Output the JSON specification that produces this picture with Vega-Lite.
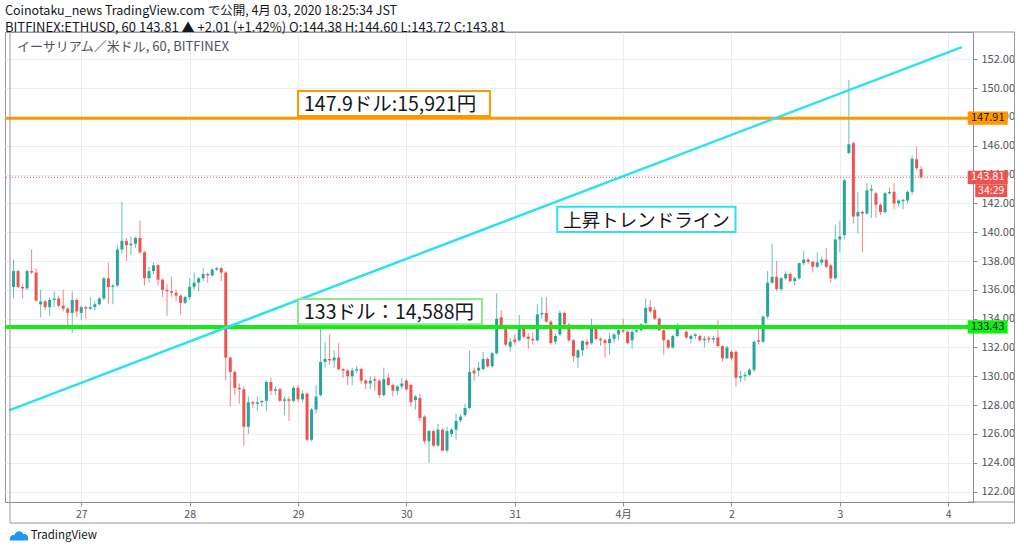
{
  "$schema": "https://vega.github.io/schema/vega-lite/v6.json",
  "width": 968,
  "height": 470,
  "autosize": "none",
  "padding": {"left": 5, "top": 32, "right": 51, "bottom": 50},
  "background": "white",
  "title": {
    "text": "Coinotaku_news TradingView.com で公開, 4月 03, 2020 18:25:34 JST",
    "subtitle": "BITFINEX:ETHUSD, 60 143.81 ▲ +2.01 (+1.42%) O:144.38 H:144.60 L:143.72 C:143.81",
    "anchor": "start",
    "frame": "group",
    "offset": -3,
    "fontSize": 12.5,
    "fontWeight": "normal",
    "color": "#131722",
    "subtitleFontSize": 13,
    "subtitleColor": "#131722",
    "subtitlePadding": 4,
    "font": "Noto Sans CJK JP",
    "subtitleFont": "Noto Sans CJK JP"
  },
  "config": {
    "font": "Noto Sans CJK JP",
    "view": {"stroke": "#9598a1"},
    "axis": {
      "domainColor": "#8a8d96",
      "tickColor": "#8a8d96",
      "gridColor": "#e9eef3",
      "labelColor": "#50535e",
      "labelFont": "Noto Sans CJK JP"
    }
  },
  "datasets": {
    "candles": [
      {"t": "2020-03-26T09:00Z", "o": 136.2, "h": 138.1, "l": 135.4, "c": 137.3},
      {"t": "2020-03-26T10:00Z", "o": 137.3, "h": 137.4, "l": 136.1, "c": 136.2},
      {"t": "2020-03-26T11:00Z", "o": 136.2, "h": 136.4, "l": 135.4, "c": 136.1},
      {"t": "2020-03-26T12:00Z", "o": 136.1, "h": 137.4, "l": 136.0, "c": 137.3},
      {"t": "2020-03-26T13:00Z", "o": 137.3, "h": 138.8, "l": 137.1, "c": 137.2},
      {"t": "2020-03-26T14:00Z", "o": 137.2, "h": 137.5, "l": 135.2, "c": 135.25},
      {"t": "2020-03-26T15:00Z", "o": 135.0, "h": 136.0, "l": 134.1, "c": 135.2},
      {"t": "2020-03-26T16:00Z", "o": 135.2, "h": 135.3, "l": 134.6, "c": 134.8},
      {"t": "2020-03-26T17:00Z", "o": 134.8, "h": 135.5, "l": 134.2, "c": 135.3},
      {"t": "2020-03-26T18:00Z", "o": 135.3, "h": 135.9, "l": 134.8, "c": 135.4},
      {"t": "2020-03-26T19:00Z", "o": 135.4, "h": 135.6, "l": 134.8, "c": 134.9},
      {"t": "2020-03-26T20:00Z", "o": 134.9, "h": 136.0, "l": 134.5, "c": 134.7},
      {"t": "2020-03-26T21:00Z", "o": 134.7, "h": 134.8, "l": 133.5, "c": 134.4},
      {"t": "2020-03-26T22:00Z", "o": 134.4, "h": 135.9, "l": 133.0, "c": 135.3},
      {"t": "2020-03-26T23:00Z", "o": 135.3, "h": 135.4, "l": 134.1, "c": 134.5},
      {"t": "2020-03-27T00:00Z", "o": 134.4, "h": 134.9, "l": 133.9, "c": 134.8},
      {"t": "2020-03-27T01:00Z", "o": 134.8, "h": 134.9, "l": 134.0, "c": 134.7},
      {"t": "2020-03-27T02:00Z", "o": 134.7, "h": 135.5, "l": 134.6, "c": 134.8},
      {"t": "2020-03-27T03:00Z", "o": 134.8, "h": 135.2, "l": 134.6, "c": 135.0},
      {"t": "2020-03-27T04:00Z", "o": 135.0, "h": 135.5, "l": 134.9, "c": 135.4},
      {"t": "2020-03-27T05:00Z", "o": 135.4, "h": 136.9, "l": 135.3, "c": 136.8},
      {"t": "2020-03-27T06:00Z", "o": 136.8, "h": 137.9, "l": 135.0, "c": 136.2},
      {"t": "2020-03-27T07:00Z", "o": 136.2, "h": 136.4, "l": 135.0, "c": 136.3},
      {"t": "2020-03-27T08:00Z", "o": 136.3, "h": 139.1, "l": 136.2, "c": 138.8},
      {"t": "2020-03-27T09:00Z", "o": 138.8, "h": 142.1, "l": 138.5, "c": 139.4},
      {"t": "2020-03-27T10:00Z", "o": 139.4, "h": 139.6, "l": 138.0, "c": 139.1},
      {"t": "2020-03-27T11:00Z", "o": 139.1, "h": 139.7, "l": 138.4, "c": 139.2},
      {"t": "2020-03-27T12:00Z", "o": 139.2, "h": 139.7, "l": 138.9, "c": 139.6},
      {"t": "2020-03-27T13:00Z", "o": 139.6, "h": 140.8, "l": 138.5, "c": 138.6},
      {"t": "2020-03-27T14:00Z", "o": 138.6, "h": 138.7, "l": 136.3, "c": 136.8},
      {"t": "2020-03-27T15:00Z", "o": 136.8, "h": 137.6, "l": 136.5, "c": 137.3},
      {"t": "2020-03-27T16:00Z", "o": 137.3, "h": 137.9, "l": 137.1, "c": 137.7},
      {"t": "2020-03-27T17:00Z", "o": 137.7, "h": 137.8, "l": 136.3, "c": 136.7},
      {"t": "2020-03-27T18:00Z", "o": 136.7, "h": 136.8, "l": 135.5, "c": 136.0},
      {"t": "2020-03-27T19:00Z", "o": 136.0, "h": 136.4, "l": 134.2, "c": 135.9},
      {"t": "2020-03-27T20:00Z", "o": 135.9, "h": 136.9, "l": 135.5, "c": 135.8},
      {"t": "2020-03-27T21:00Z", "o": 135.8, "h": 136.0, "l": 135.2, "c": 135.6},
      {"t": "2020-03-27T22:00Z", "o": 135.6, "h": 135.7, "l": 134.3, "c": 135.1},
      {"t": "2020-03-27T23:00Z", "o": 135.1, "h": 135.6, "l": 135.0, "c": 135.5},
      {"t": "2020-03-28T00:00Z", "o": 135.5, "h": 136.8, "l": 135.3, "c": 136.2},
      {"t": "2020-03-28T01:00Z", "o": 136.2, "h": 137.2, "l": 136.0, "c": 136.5},
      {"t": "2020-03-28T02:00Z", "o": 136.5, "h": 136.9, "l": 135.9, "c": 136.8},
      {"t": "2020-03-28T03:00Z", "o": 136.8, "h": 137.5, "l": 136.6, "c": 137.1},
      {"t": "2020-03-28T04:00Z", "o": 137.1, "h": 137.2, "l": 136.5, "c": 137.0},
      {"t": "2020-03-28T05:00Z", "o": 137.0, "h": 137.5, "l": 136.9, "c": 137.4},
      {"t": "2020-03-28T06:00Z", "o": 137.4, "h": 137.6, "l": 137.3, "c": 137.5},
      {"t": "2020-03-28T07:00Z", "o": 137.5, "h": 137.6, "l": 136.6, "c": 137.2},
      {"t": "2020-03-28T08:00Z", "o": 137.2, "h": 137.3, "l": 129.7, "c": 131.3},
      {"t": "2020-03-28T09:00Z", "o": 131.3, "h": 131.4, "l": 127.9, "c": 130.3},
      {"t": "2020-03-28T10:00Z", "o": 130.3, "h": 130.4, "l": 128.7, "c": 129.2},
      {"t": "2020-03-28T11:00Z", "o": 129.2, "h": 129.5, "l": 128.1, "c": 129.1},
      {"t": "2020-03-28T12:00Z", "o": 129.1, "h": 129.3, "l": 125.2, "c": 126.5},
      {"t": "2020-03-28T13:00Z", "o": 126.5, "h": 128.6, "l": 126.0, "c": 128.2},
      {"t": "2020-03-28T14:00Z", "o": 128.2, "h": 128.3, "l": 127.8, "c": 128.1},
      {"t": "2020-03-28T15:00Z", "o": 128.1, "h": 128.6, "l": 127.6, "c": 128.2},
      {"t": "2020-03-28T16:00Z", "o": 128.2, "h": 128.3, "l": 127.9, "c": 128.3},
      {"t": "2020-03-28T17:00Z", "o": 128.3, "h": 129.7, "l": 127.6, "c": 129.6},
      {"t": "2020-03-28T18:00Z", "o": 129.6, "h": 129.9, "l": 128.7, "c": 129.0},
      {"t": "2020-03-28T19:00Z", "o": 129.0, "h": 129.3, "l": 128.7, "c": 129.1},
      {"t": "2020-03-28T20:00Z", "o": 129.1, "h": 129.2, "l": 128.2, "c": 128.3},
      {"t": "2020-03-28T21:00Z", "o": 128.3, "h": 128.6, "l": 127.3, "c": 128.4},
      {"t": "2020-03-28T22:00Z", "o": 128.4, "h": 128.6, "l": 126.9, "c": 128.3},
      {"t": "2020-03-28T23:00Z", "o": 128.3, "h": 129.3, "l": 128.2, "c": 129.2},
      {"t": "2020-03-29T00:00Z", "o": 129.2, "h": 129.4, "l": 128.2, "c": 128.4},
      {"t": "2020-03-29T01:00Z", "o": 128.4, "h": 129.0, "l": 128.2, "c": 128.8},
      {"t": "2020-03-29T02:00Z", "o": 128.8, "h": 128.9, "l": 125.5, "c": 125.6},
      {"t": "2020-03-29T03:00Z", "o": 125.6, "h": 127.8, "l": 125.5, "c": 127.7},
      {"t": "2020-03-29T04:00Z", "o": 127.7, "h": 129.4, "l": 127.4, "c": 128.6},
      {"t": "2020-03-29T05:00Z", "o": 128.7, "h": 133.3, "l": 128.6, "c": 131.0},
      {"t": "2020-03-29T06:00Z", "o": 131.0, "h": 132.4, "l": 130.6, "c": 131.2},
      {"t": "2020-03-29T07:00Z", "o": 131.2, "h": 132.9, "l": 130.8, "c": 131.1},
      {"t": "2020-03-29T08:00Z", "o": 131.1, "h": 131.8, "l": 130.6, "c": 131.3},
      {"t": "2020-03-29T09:00Z", "o": 131.3, "h": 132.3, "l": 130.4, "c": 130.5},
      {"t": "2020-03-29T10:00Z", "o": 130.5, "h": 130.6, "l": 129.9, "c": 130.4},
      {"t": "2020-03-29T11:00Z", "o": 130.4, "h": 130.5, "l": 129.4, "c": 130.0},
      {"t": "2020-03-29T12:00Z", "o": 130.0, "h": 130.6, "l": 129.4, "c": 130.4},
      {"t": "2020-03-29T13:00Z", "o": 130.4, "h": 130.7, "l": 130.2, "c": 130.5},
      {"t": "2020-03-29T14:00Z", "o": 130.5, "h": 130.6, "l": 129.5, "c": 129.7},
      {"t": "2020-03-29T15:00Z", "o": 129.7, "h": 129.8, "l": 129.1, "c": 129.5},
      {"t": "2020-03-29T16:00Z", "o": 129.5, "h": 130.0, "l": 129.1, "c": 129.7},
      {"t": "2020-03-29T17:00Z", "o": 129.8, "h": 130.0, "l": 129.0, "c": 129.7},
      {"t": "2020-03-29T18:00Z", "o": 129.7, "h": 129.8, "l": 128.5, "c": 128.7},
      {"t": "2020-03-29T19:00Z", "o": 128.7, "h": 130.6, "l": 128.6, "c": 129.8},
      {"t": "2020-03-29T20:00Z", "o": 129.9, "h": 130.2, "l": 129.3, "c": 129.4},
      {"t": "2020-03-29T21:00Z", "o": 129.4, "h": 129.5, "l": 128.6, "c": 129.0},
      {"t": "2020-03-29T22:00Z", "o": 129.0, "h": 129.4, "l": 128.7, "c": 129.3},
      {"t": "2020-03-29T23:00Z", "o": 129.3, "h": 129.9, "l": 129.1, "c": 129.5},
      {"t": "2020-03-30T00:00Z", "o": 129.7, "h": 129.8, "l": 129.0, "c": 129.1},
      {"t": "2020-03-30T01:00Z", "o": 129.4, "h": 129.5, "l": 127.9, "c": 128.2},
      {"t": "2020-03-30T02:00Z", "o": 128.35, "h": 128.7, "l": 127.7, "c": 128.6},
      {"t": "2020-03-30T03:00Z", "o": 128.5, "h": 128.8, "l": 126.9, "c": 127.1},
      {"t": "2020-03-30T04:00Z", "o": 127.2, "h": 127.3, "l": 125.3, "c": 125.5},
      {"t": "2020-03-30T05:00Z", "o": 125.5, "h": 126.3, "l": 124.0, "c": 126.2},
      {"t": "2020-03-30T06:00Z", "o": 126.2, "h": 126.3, "l": 125.1, "c": 125.2},
      {"t": "2020-03-30T07:00Z", "o": 125.2, "h": 126.7, "l": 125.1, "c": 126.3},
      {"t": "2020-03-30T08:00Z", "o": 126.3, "h": 126.4, "l": 124.8, "c": 124.85},
      {"t": "2020-03-30T09:00Z", "o": 124.85, "h": 126.5, "l": 124.7, "c": 126.2},
      {"t": "2020-03-30T10:00Z", "o": 126.0, "h": 126.4, "l": 125.8, "c": 126.3},
      {"t": "2020-03-30T11:00Z", "o": 126.3, "h": 127.4, "l": 125.6, "c": 126.9},
      {"t": "2020-03-30T12:00Z", "o": 126.95, "h": 127.4, "l": 126.8, "c": 127.2},
      {"t": "2020-03-30T13:00Z", "o": 127.3, "h": 128.1, "l": 127.2, "c": 127.8},
      {"t": "2020-03-30T14:00Z", "o": 127.8, "h": 131.8, "l": 127.7, "c": 130.3},
      {"t": "2020-03-30T15:00Z", "o": 130.4, "h": 130.6, "l": 129.7, "c": 130.2},
      {"t": "2020-03-30T16:00Z", "o": 130.4, "h": 131.0, "l": 130.0, "c": 130.6},
      {"t": "2020-03-30T17:00Z", "o": 130.5, "h": 131.7, "l": 130.4, "c": 131.2},
      {"t": "2020-03-30T18:00Z", "o": 131.2, "h": 131.3, "l": 130.6, "c": 130.7},
      {"t": "2020-03-30T19:00Z", "o": 130.7, "h": 131.7, "l": 130.6, "c": 131.6},
      {"t": "2020-03-30T20:00Z", "o": 131.6, "h": 135.75, "l": 131.5, "c": 134.0},
      {"t": "2020-03-30T21:00Z", "o": 134.1, "h": 134.6, "l": 133.3, "c": 133.4},
      {"t": "2020-03-30T22:00Z", "o": 133.4, "h": 133.6, "l": 132.1, "c": 132.2},
      {"t": "2020-03-30T23:00Z", "o": 132.05, "h": 132.7, "l": 131.7, "c": 132.4},
      {"t": "2020-03-31T00:00Z", "o": 132.55, "h": 132.9, "l": 132.2, "c": 132.4},
      {"t": "2020-03-31T01:00Z", "o": 132.5, "h": 134.25, "l": 132.4, "c": 133.3},
      {"t": "2020-03-31T02:00Z", "o": 133.3, "h": 133.5, "l": 132.6, "c": 132.75},
      {"t": "2020-03-31T03:00Z", "o": 132.75, "h": 133.0, "l": 131.9, "c": 132.6},
      {"t": "2020-03-31T04:00Z", "o": 132.6, "h": 133.1, "l": 132.2, "c": 132.5},
      {"t": "2020-03-31T05:00Z", "o": 132.5, "h": 135.0, "l": 132.4, "c": 134.3},
      {"t": "2020-03-31T06:00Z", "o": 134.3, "h": 135.5, "l": 134.0, "c": 134.4},
      {"t": "2020-03-31T07:00Z", "o": 134.4, "h": 135.5, "l": 133.7, "c": 133.8},
      {"t": "2020-03-31T08:00Z", "o": 133.8, "h": 133.9, "l": 132.2, "c": 132.3},
      {"t": "2020-03-31T09:00Z", "o": 132.4, "h": 133.0, "l": 132.2, "c": 132.8},
      {"t": "2020-03-31T10:00Z", "o": 132.9, "h": 134.6, "l": 132.8, "c": 134.4},
      {"t": "2020-03-31T11:00Z", "o": 134.4, "h": 134.5, "l": 133.4, "c": 133.6},
      {"t": "2020-03-31T12:00Z", "o": 133.6, "h": 133.7, "l": 132.4, "c": 132.5},
      {"t": "2020-03-31T13:00Z", "o": 132.5, "h": 132.6, "l": 131.0, "c": 131.4},
      {"t": "2020-03-31T14:00Z", "o": 131.3, "h": 131.9, "l": 130.6, "c": 131.8},
      {"t": "2020-03-31T15:00Z", "o": 131.8, "h": 132.5, "l": 131.4, "c": 132.45},
      {"t": "2020-03-31T16:00Z", "o": 132.4, "h": 132.6, "l": 131.9, "c": 132.2},
      {"t": "2020-03-31T17:00Z", "o": 132.3, "h": 134.0, "l": 132.2, "c": 133.5},
      {"t": "2020-03-31T18:00Z", "o": 133.5, "h": 133.6, "l": 132.5, "c": 132.6},
      {"t": "2020-03-31T19:00Z", "o": 132.6, "h": 132.7, "l": 132.1, "c": 132.5},
      {"t": "2020-03-31T20:00Z", "o": 132.5, "h": 132.6, "l": 131.3, "c": 132.3},
      {"t": "2020-03-31T21:00Z", "o": 132.3, "h": 133.0, "l": 131.5, "c": 132.6},
      {"t": "2020-03-31T22:00Z", "o": 132.6, "h": 133.0, "l": 132.3, "c": 132.9},
      {"t": "2020-03-31T23:00Z", "o": 132.9, "h": 133.3, "l": 132.5, "c": 133.2},
      {"t": "2020-04-01T00:00Z", "o": 133.2, "h": 134.0, "l": 133.0, "c": 133.1},
      {"t": "2020-04-01T01:00Z", "o": 133.1, "h": 133.2, "l": 132.2, "c": 132.3},
      {"t": "2020-04-01T02:00Z", "o": 132.5, "h": 133.2, "l": 131.9, "c": 133.1},
      {"t": "2020-04-01T03:00Z", "o": 133.1, "h": 133.3, "l": 133.0, "c": 133.2},
      {"t": "2020-04-01T04:00Z", "o": 133.2, "h": 133.7, "l": 133.1, "c": 133.6},
      {"t": "2020-04-01T05:00Z", "o": 133.7, "h": 135.4, "l": 133.6, "c": 134.75},
      {"t": "2020-04-01T06:00Z", "o": 134.8, "h": 135.3, "l": 134.4, "c": 134.5},
      {"t": "2020-04-01T07:00Z", "o": 134.6, "h": 134.8, "l": 133.9, "c": 134.0},
      {"t": "2020-04-01T08:00Z", "o": 134.0, "h": 134.1, "l": 133.1, "c": 133.2},
      {"t": "2020-04-01T09:00Z", "o": 133.2, "h": 133.3, "l": 131.5, "c": 132.5},
      {"t": "2020-04-01T10:00Z", "o": 132.5, "h": 132.6, "l": 131.9, "c": 132.0},
      {"t": "2020-04-01T11:00Z", "o": 132.0, "h": 132.9, "l": 131.9, "c": 132.8},
      {"t": "2020-04-01T12:00Z", "o": 132.8, "h": 133.7, "l": 132.7, "c": 133.4},
      {"t": "2020-04-01T13:00Z", "o": 133.5, "h": 133.6, "l": 133.2, "c": 133.3},
      {"t": "2020-04-01T14:00Z", "o": 133.1, "h": 133.2, "l": 132.6, "c": 132.7},
      {"t": "2020-04-01T15:00Z", "o": 132.6, "h": 132.9, "l": 132.3, "c": 132.8},
      {"t": "2020-04-01T16:00Z", "o": 132.8, "h": 133.0, "l": 132.6, "c": 132.9},
      {"t": "2020-04-01T17:00Z", "o": 132.8, "h": 132.9, "l": 132.4, "c": 132.5},
      {"t": "2020-04-01T18:00Z", "o": 132.5, "h": 132.8, "l": 132.0, "c": 132.6},
      {"t": "2020-04-01T19:00Z", "o": 132.65, "h": 132.8, "l": 132.3, "c": 132.55},
      {"t": "2020-04-01T20:00Z", "o": 132.55, "h": 132.8, "l": 132.3, "c": 132.65},
      {"t": "2020-04-01T21:00Z", "o": 132.7, "h": 133.9, "l": 132.0, "c": 132.1},
      {"t": "2020-04-01T22:00Z", "o": 132.1, "h": 132.15, "l": 131.0, "c": 131.25},
      {"t": "2020-04-01T23:00Z", "o": 131.25, "h": 132.1, "l": 131.2, "c": 132.0},
      {"t": "2020-04-02T00:00Z", "o": 131.7, "h": 131.8, "l": 131.1, "c": 131.25},
      {"t": "2020-04-02T01:00Z", "o": 131.7, "h": 131.8, "l": 129.3, "c": 129.9},
      {"t": "2020-04-02T02:00Z", "o": 129.9, "h": 130.4, "l": 129.6, "c": 130.0},
      {"t": "2020-04-02T03:00Z", "o": 130.0, "h": 130.3, "l": 129.7, "c": 130.1},
      {"t": "2020-04-02T04:00Z", "o": 130.1, "h": 130.6, "l": 130.0, "c": 130.45},
      {"t": "2020-04-02T05:00Z", "o": 130.45, "h": 132.5, "l": 130.3, "c": 132.4},
      {"t": "2020-04-02T06:00Z", "o": 132.5, "h": 133.3, "l": 132.2, "c": 132.4},
      {"t": "2020-04-02T07:00Z", "o": 132.4, "h": 134.2, "l": 132.3, "c": 134.15},
      {"t": "2020-04-02T08:00Z", "o": 134.15, "h": 137.3, "l": 134.0, "c": 136.5},
      {"t": "2020-04-02T09:00Z", "o": 136.5, "h": 139.2, "l": 136.4, "c": 136.9},
      {"t": "2020-04-02T10:00Z", "o": 136.9, "h": 138.0, "l": 135.9, "c": 136.05},
      {"t": "2020-04-02T11:00Z", "o": 136.05, "h": 136.9, "l": 135.9, "c": 136.8},
      {"t": "2020-04-02T12:00Z", "o": 136.8, "h": 137.3, "l": 136.7, "c": 137.1},
      {"t": "2020-04-02T13:00Z", "o": 137.1, "h": 137.2, "l": 136.5, "c": 136.6},
      {"t": "2020-04-02T14:00Z", "o": 136.6, "h": 136.9, "l": 136.3, "c": 136.8},
      {"t": "2020-04-02T15:00Z", "o": 136.8, "h": 137.9, "l": 136.7, "c": 137.85},
      {"t": "2020-04-02T16:00Z", "o": 137.85, "h": 138.7, "l": 137.7, "c": 138.1},
      {"t": "2020-04-02T17:00Z", "o": 138.1, "h": 138.2, "l": 137.8, "c": 137.95},
      {"t": "2020-04-02T18:00Z", "o": 137.95, "h": 138.0, "l": 137.2, "c": 137.6},
      {"t": "2020-04-02T19:00Z", "o": 137.6, "h": 138.6, "l": 137.5, "c": 137.9},
      {"t": "2020-04-02T20:00Z", "o": 137.9, "h": 138.3, "l": 137.7, "c": 138.1},
      {"t": "2020-04-02T21:00Z", "o": 138.1, "h": 138.9, "l": 137.5, "c": 137.6},
      {"t": "2020-04-02T22:00Z", "o": 137.7, "h": 137.8, "l": 136.5, "c": 136.8},
      {"t": "2020-04-02T23:00Z", "o": 136.8, "h": 140.5, "l": 136.7, "c": 139.5},
      {"t": "2020-04-03T00:00Z", "o": 139.5, "h": 140.8, "l": 138.6, "c": 139.7},
      {"t": "2020-04-03T01:00Z", "o": 139.8, "h": 143.7, "l": 139.5, "c": 143.6},
      {"t": "2020-04-03T02:00Z", "o": 145.5, "h": 150.57, "l": 145.4, "c": 146.1},
      {"t": "2020-04-03T03:00Z", "o": 146.17, "h": 146.3, "l": 140.6, "c": 141.08},
      {"t": "2020-04-03T04:00Z", "o": 141.1, "h": 142.8, "l": 139.9, "c": 141.4},
      {"t": "2020-04-03T05:00Z", "o": 141.4, "h": 141.5, "l": 138.6, "c": 141.3},
      {"t": "2020-04-03T06:00Z", "o": 141.3, "h": 143.4, "l": 141.2, "c": 142.9},
      {"t": "2020-04-03T07:00Z", "o": 142.9, "h": 143.3, "l": 141.0, "c": 143.0},
      {"t": "2020-04-03T08:00Z", "o": 142.7, "h": 142.8, "l": 141.0, "c": 141.9},
      {"t": "2020-04-03T09:00Z", "o": 141.9, "h": 142.0, "l": 141.2, "c": 141.4},
      {"t": "2020-04-03T10:00Z", "o": 141.4, "h": 142.8, "l": 141.3, "c": 142.7},
      {"t": "2020-04-03T11:00Z", "o": 142.7, "h": 143.1, "l": 142.6, "c": 142.8},
      {"t": "2020-04-03T12:00Z", "o": 142.8, "h": 143.4, "l": 141.6, "c": 142.0},
      {"t": "2020-04-03T13:00Z", "o": 142.0, "h": 142.3, "l": 141.8, "c": 142.2},
      {"t": "2020-04-03T14:00Z", "o": 142.15, "h": 142.3, "l": 141.6, "c": 142.25},
      {"t": "2020-04-03T15:00Z", "o": 142.2, "h": 142.9, "l": 142.0, "c": 142.8},
      {"t": "2020-04-03T16:00Z", "o": 142.8, "h": 145.3, "l": 142.6, "c": 145.1},
      {"t": "2020-04-03T17:00Z", "o": 145.06, "h": 145.95, "l": 144.3, "c": 144.44},
      {"t": "2020-04-03T18:00Z", "o": 144.38, "h": 144.6, "l": 143.72, "c": 143.81}
    ],
    "notes": [
      {"t": "2020-03-29T00:00Z", "t2": "2020-03-30T18:30Z", "p": 149.8, "p2": 148.06, "text": "147.9ドル:15,921円", "kind": "resistance"},
      {"t": "2020-03-29T00:00Z", "t2": "2020-03-30T16:45Z", "p": 135.37, "p2": 133.61, "text": "133ドル：14,588円", "kind": "support"},
      {"t": "2020-03-31T09:25Z", "t2": "2020-04-02T00:53Z", "p": 141.77, "p2": 140.01, "text": "上昇トレンドライン", "kind": "trend"}
    ],
    "trend": [
      {"t": "2020-03-26T08:00Z", "p": 127.64},
      {"t": "2020-04-04T03:00Z", "p": 152.84}
    ],
    "pricetags": [
      {"p": 147.91, "text": "147.91", "kind": "resistance"},
      {"p": 143.81, "text": "143.81", "kind": "current"},
      {"p": 133.43, "text": "133.43", "kind": "support"}
    ]
  },
  "layer": [
    {
      "data": {"name": "candles"},
      "mark": {"type": "rule", "strokeWidth": 1, "opacity": 0.7, "clip": true},
      "encoding": {
        "x": {
          "field": "t",
          "type": "temporal",
          "title": null,
          "scale": {
            "type": "utc",
            "nice": false,
            "domain": [
              {"year": 2020, "month": 3, "date": 26, "hours": 8, "minutes": 13, "utc": true},
              {"year": 2020, "month": 4, "date": 4, "hours": 4, "minutes": 23, "utc": true}
            ]
          },
          "axis": {
            "title": null,
            "orient": "bottom",
            "grid": true,
            "tickSize": 4,
            "tickCount": 30,
            "labelFontSize": 10.5,
            "labelPadding": 3,
            "labelOverlap": false,
            "values": [
              {"year": 2020, "month": 3, "date": 27, "utc": true},
              {"year": 2020, "month": 3, "date": 28, "utc": true},
              {"year": 2020, "month": 3, "date": 29, "utc": true},
              {"year": 2020, "month": 3, "date": 30, "utc": true},
              {"year": 2020, "month": 3, "date": 31, "utc": true},
              {"year": 2020, "month": 4, "date": 1, "utc": true},
              {"year": 2020, "month": 4, "date": 2, "utc": true},
              {"year": 2020, "month": 4, "date": 3, "utc": true},
              {"year": 2020, "month": 4, "date": 4, "utc": true}
            ],
            "labelExpr": "utcdate(datum.value) == 1 ? (utcmonth(datum.value) + 1) + '月' : '' + utcdate(datum.value)"
          }
        },
        "y": {
          "field": "l",
          "type": "quantitative",
          "title": null,
          "scale": {"domain": [121.28, 153.89], "nice": false, "zero": false},
          "axis": {
            "title": null,
            "orient": "right",
            "grid": true,
            "tickSize": 4,
            "tickCount": 30,
            "labelFontSize": 11,
            "labelPadding": 4,
            "labelOverlap": false,
            "format": ".2f",
            "values": [122, 124, 126, 128, 130, 132, 134, 136, 138, 140, 142, 144, 146, 148, 150, 152]
          }
        },
        "y2": {"field": "h"},
        "color": {"condition": {"test": "datum.c >= datum.o", "value": "#26a69a"}, "value": "#ef5350"}
      }
    },
    {
      "data": {"name": "candles"},
      "mark": {"type": "bar", "size": 3, "clip": true},
      "encoding": {
        "x": {"field": "t", "type": "temporal", "title": null},
        "y": {"field": "o", "type": "quantitative", "title": null},
        "y2": {"field": "c"},
        "color": {"condition": {"test": "datum.c >= datum.o", "value": "#26a69a"}, "value": "#ef5350"}
      }
    },
    {
      "data": {"values": [{}]},
      "mark": {"type": "rule", "color": "#ff9800", "strokeWidth": 3},
      "encoding": {"y": {"datum": 147.91, "type": "quantitative", "title": null}}
    },
    {
      "data": {"values": [{}]},
      "mark": {"type": "rule", "color": "#11ee11", "strokeWidth": 4},
      "encoding": {"y": {"datum": 133.43, "type": "quantitative", "title": null}}
    },
    {
      "data": {"values": [{}]},
      "mark": {"type": "rule", "color": "#ef5350", "strokeWidth": 1, "strokeDash": [1, 2]},
      "encoding": {"y": {"datum": 143.81, "type": "quantitative", "title": null}}
    },
    {
      "data": {"name": "trend"},
      "mark": {"type": "line", "color": "#2de1f2", "strokeWidth": 2.5, "clip": true},
      "encoding": {
        "x": {"field": "t", "type": "temporal", "title": null},
        "y": {"field": "p", "type": "quantitative", "title": null}
      }
    },
    {
      "data": {"name": "notes"},
      "mark": {"type": "rect", "fill": "white", "strokeWidth": 2},
      "encoding": {
        "x": {"field": "t", "type": "temporal", "title": null},
        "x2": {"field": "t2"},
        "y": {"field": "p", "type": "quantitative", "title": null},
        "y2": {"field": "p2"},
        "stroke": {
          "field": "kind",
          "type": "nominal",
          "legend": null,
          "scale": {"domain": ["resistance", "support", "trend"], "range": ["#ff9800", "#8be88b", "#2de1f2"]}
        }
      }
    },
    {
      "data": {"name": "notes"},
      "mark": {"type": "text", "align": "left", "baseline": "alphabetic", "dx": 6, "dy": -5, "color": "#131722"},
      "encoding": {
        "x": {"field": "t", "type": "temporal", "title": null},
        "y": {"field": "p2", "type": "quantitative", "title": null},
        "text": {"field": "text"},
        "size": {"condition": {"test": "datum.kind == 'trend'", "value": 18.5}, "value": 19.5}
      }
    },
    {
      "data": {"values": [{}]},
      "mark": {"type": "text", "align": "left", "baseline": "middle", "fontSize": 13, "color": "#50535e"},
      "encoding": {
        "x": {"datum": {"year": 2020, "month": 3, "date": 26, "hours": 9, "minutes": 45, "utc": true}, "type": "temporal", "title": null},
        "y": {"datum": 152.85, "type": "quantitative", "title": null},
        "text": {"value": "イーサリアム／米ドル, 60, BITFINEX"}
      }
    },
    {
      "data": {"name": "pricetags"},
      "mark": {"type": "point", "filled": true, "opacity": 1, "shape": "M-1,-0.33H1V0.33H-1Z", "size": 1600, "clip": false},
      "encoding": {
        "x": {"datum": {"year": 2020, "month": 4, "date": 4, "hours": 8, "minutes": 45, "utc": true}, "type": "temporal", "title": null},
        "y": {"field": "p", "type": "quantitative", "title": null},
        "fill": {
          "field": "kind",
          "type": "nominal",
          "legend": null,
          "scale": {"domain": ["resistance", "current", "support"], "range": ["#ff9800", "#ef5350", "#11ee11"]}
        }
      }
    },
    {
      "data": {"values": [{}]},
      "mark": {"type": "point", "filled": true, "opacity": 1, "color": "#ef5350", "shape": "M-1,-0.4H1V0.4H-1Z", "size": 1024, "xOffset": 3.5, "clip": false},
      "encoding": {
        "x": {"datum": {"year": 2020, "month": 4, "date": 4, "hours": 8, "minutes": 45, "utc": true}, "type": "temporal", "title": null},
        "y": {"datum": 142.88, "type": "quantitative", "title": null}
      }
    },
    {
      "data": {"name": "pricetags"},
      "mark": {"type": "text", "align": "center", "baseline": "middle", "fontSize": 11, "clip": false},
      "encoding": {
        "x": {"datum": {"year": 2020, "month": 4, "date": 4, "hours": 8, "minutes": 45, "utc": true}, "type": "temporal", "title": null},
        "y": {"field": "p", "type": "quantitative", "title": null},
        "text": {"field": "text"},
        "color": {"condition": {"test": "datum.kind == 'current'", "value": "white"}, "value": "#131722"}
      }
    },
    {
      "data": {"values": [{}]},
      "mark": {"type": "text", "align": "center", "baseline": "middle", "fontSize": 10.5, "color": "white", "xOffset": 3.5, "clip": false},
      "encoding": {
        "x": {"datum": {"year": 2020, "month": 4, "date": 4, "hours": 8, "minutes": 45, "utc": true}, "type": "temporal", "title": null},
        "y": {"datum": 142.88, "type": "quantitative", "title": null},
        "text": {"value": "34:29"}
      }
    },
    {
      "data": {"values": [{}]},
      "mark": {"type": "rect", "fillOpacity": 0, "stroke": "#9598a1", "strokeWidth": 1, "clip": false},
      "encoding": {
        "x": {"datum": {"year": 2020, "month": 3, "date": 26, "hours": 8, "minutes": 13, "utc": true}, "type": "temporal", "title": null},
        "x2": {"datum": {"year": 2020, "month": 4, "date": 4, "hours": 14, "minutes": 41, "utc": true}},
        "y": {"datum": 119.82, "type": "quantitative", "title": null},
        "y2": {"datum": 153.89}
      }
    },
    {
      "data": {"values": [{}]},
      "mark": {"type": "rule", "color": "#8a8d96", "strokeWidth": 1, "clip": false},
      "encoding": {
        "x": {"datum": {"year": 2020, "month": 4, "date": 4, "hours": 4, "minutes": 23, "utc": true}, "type": "temporal", "title": null},
        "x2": {"datum": {"year": 2020, "month": 4, "date": 4, "hours": 14, "minutes": 41, "utc": true}},
        "y": {"datum": 121.28, "type": "quantitative", "title": null}
      }
    },
    {
      "data": {"values": [{}]},
      "mark": {"type": "point", "filled": true, "opacity": 1, "color": "#2196f3", "size": 324, "shape": "M-1,0.5C-1.1,0.1 -0.8,-0.2 -0.5,-0.1C-0.4,-0.6 0.3,-0.7 0.5,-0.2C0.9,-0.3 1.1,0.1 1,0.5Z", "clip": false},
      "encoding": {
        "x": {"datum": {"year": 2020, "month": 3, "date": 26, "hours": 10, "minutes": 12, "utc": true}, "type": "temporal", "title": null},
        "y": {"datum": 118.92, "type": "quantitative", "title": null}
      }
    },
    {
      "data": {"values": [{}]},
      "mark": {"type": "text", "align": "left", "baseline": "middle", "fontSize": 11.5, "color": "#131722", "clip": false},
      "encoding": {
        "x": {"datum": {"year": 2020, "month": 3, "date": 26, "hours": 12, "minutes": 49, "utc": true}, "type": "temporal", "title": null},
        "y": {"datum": 118.92, "type": "quantitative", "title": null},
        "text": {"value": "TradingView"}
      }
    }
  ]
}
